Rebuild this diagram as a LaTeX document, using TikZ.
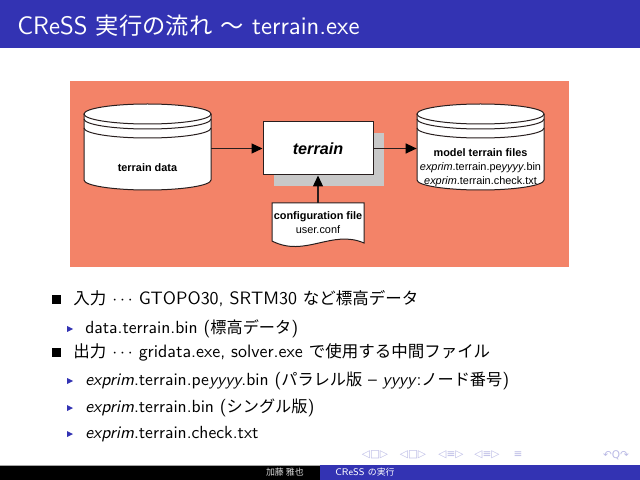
\documentclass[tikz,border=0pt]{standalone}
\usepackage{fontspec}
\usepackage{tikz}
\usetikzlibrary{arrows.meta}
\usetikzlibrary{positioning}
\newfontfamily\jpfont[Scale=0.92]{Noto Sans CJK JP}
\newfontfamily\diafont{Liberation Sans}
\newfontfamily\navfont{DejaVu Sans}
\definecolor{sblue}{RGB}{51,51,179}
\definecolor{salmon}{RGB}{243,131,104}
\definecolor{shade}{RGB}{200,200,200}
\definecolor{lineg}{RGB}{40,30,30}
\tikzset{flow/.style = {draw=lineg, line width=0.25mm,
                        -{Triangle[length=2.2mm, width=2mm, color=black]}}}
\tikzset{block/.style = {draw=lineg, fill=white, line width=0.2mm,
                         minimum width=22mm, minimum height=10.6mm, inner sep=0}}
\tikzset{diskbox/.style = {minimum width=25.4mm, minimum height=17mm, inner sep=0}}
\tikzset{disktext/.style = {font=\diafont\fontsize{6.2}{7.9}\selectfont, align=center, inner sep=0}}
\tikzset{item/.style = {anchor=base west, inner sep=0, font=\sffamily\fontsize{10.2}{13}\selectfont}}
\tikzset{subitem/.style = {item, font=\sffamily\fontsize{10}{12}\selectfont}}
\tikzset{foot/.style = {inner sep=0, font=\sffamily\fontsize{5.5}{6}\selectfont}}
\tikzset{nav/.style = {inner sep=0, text=sblue!35, font=\navfont\fontsize{6}{6}\selectfont}}

\begin{document}
\begin{tikzpicture}[x=0.2mm, y=-0.2mm]
    \useasboundingbox (0,0) rectangle (640,480);

    % title bar
    \fill [sblue] (0,0) rectangle (640,48);
    \node [anchor=base west, inner sep=0, text=white, font=\sffamily\fontsize{14.4}{17}\selectfont] (title) at (17,35)
      {CReSS {\jpfont 実行の流れ} {\jpfont ～} terrain.exe};

    % flow diagram
    \fill [salmon] (70,81) rectangle (569,267);
    \foreach \cx in {147.5, 480.5} {
      \draw [draw=lineg, fill=white, line width=0.2mm] (\cx-63.5,114) -- (\cx-63.5,180)
        arc [start angle=180, end angle=0, x radius=63.5, y radius=10] -- (\cx+63.5,114);
      \draw [draw=lineg, fill=white, line width=0.2mm] (\cx,114) ellipse (63.5 and 10);
      \draw [draw=lineg, line width=0.2mm] (\cx-63.5,119) arc [start angle=180, end angle=0, x radius=63.5, y radius=10];
      \draw [draw=lineg, line width=0.2mm] (\cx-63.5,128) arc [start angle=180, end angle=0, x radius=63.5, y radius=10];
    }
    \node [diskbox] (tdata) at (147.5,147.5) {};
    \node [diskbox] (mdisk) at (480.5,147.5) {};
    \node [disktext] (tdatalabel) at (147.5,168) {\textbf{terrain data}};
    \node [disktext] (mfiles) at (480.5,168)
      {\textbf{model terrain files}\\\textit{exprim}.terrain.pe\textit{yyyy}.bin\\\textit{exprim}.terrain.check.txt};

    \node [block, fill=shade, draw=none] (shadow) at (329,159.5) {};
    \node [block, font=\diafont\fontsize{9.2}{11}\selectfont] (terrain) at (318,148.5) {\textbf{\textit{terrain}}};

    \draw [draw=lineg, fill=white, line width=0.2mm] (272,203) -- (364,203) -- (364,243)
      .. controls (332,229) and (305,258) .. (272,241) -- cycle;
    \node [disktext, minimum width=18.4mm, minimum height=8mm] (conf) at (318,223)
      {\textbf{configuration file}\\user.conf};

    \draw [flow] (tdata.east |- terrain.west) -- (terrain.west);
    \draw [flow] (terrain.east) -- (terrain.east -| mdisk.west);
    \draw [flow] (conf.north) -- (terrain.south);

    % bullet list
    \fill (52,295) rectangle (61,304);
    \node [item] (input) at (73,305) {{\jpfont 入力} $\cdots$ GTOPO30, SRTM30 {\jpfont など標高データ}};
    \fill [sblue] (67,326) -- (73,329) -- (67,332) -- cycle;
    \node [subitem] (inbin) at (85,333) {data.terrain.bin ({\jpfont 標高データ})};
    \fill (52,348) rectangle (61,357);
    \node [item] (output) at (73,358) {{\jpfont 出力} $\cdots$ gridata.exe, solver.exe {\jpfont で使用する中間ファイル}};
    \foreach \y/\name/\txt in {
        385/outpar/{\textit{exprim}.terrain.pe\textit{yyyy}.bin ({\jpfont パラレル版} -- \textit{yyyy}:{\jpfont ノード番号})},
        412/outsgl/{\textit{exprim}.terrain.bin ({\jpfont シングル版})},
        438/outchk/{\textit{exprim}.terrain.check.txt}} {
      \fill [sblue] (67,\y-7) -- (73,\y-4) -- (67,\y-1) -- cycle;
      \node [subitem] (\name) at (85,\y) {\txt};
    }

    % footline
    \fill [black] (0,465) rectangle (320,480);
    \fill [sblue] (320,465) rectangle (640,480);
    \draw [gray!70, line width=0.2mm] (0,465) -- (320,465);
    \node [foot, anchor=base east, text=white!85!black] (author) at (304,475) {\jpfont 加藤 雅也};
    \node [foot, anchor=base west, text=white] (short) at (335,475) {CReSS {\jpfont の実行}};

    % navigation symbols
    \node [nav] (navframe) at (375,455) {◁□▷};
    \node [nav] (navsub) at (413,455) {◁□▷};
    \node [nav] (navsec) at (451,455) {◁≡▷};
    \node [nav] (navsubsec) at (487,455) {◁≡▷};
    \node [nav] (navdoc) at (518,455) {≡};
    \node [nav] (navsearch) at (616,455) {↶Q↷};
\end{tikzpicture}
\end{document}
